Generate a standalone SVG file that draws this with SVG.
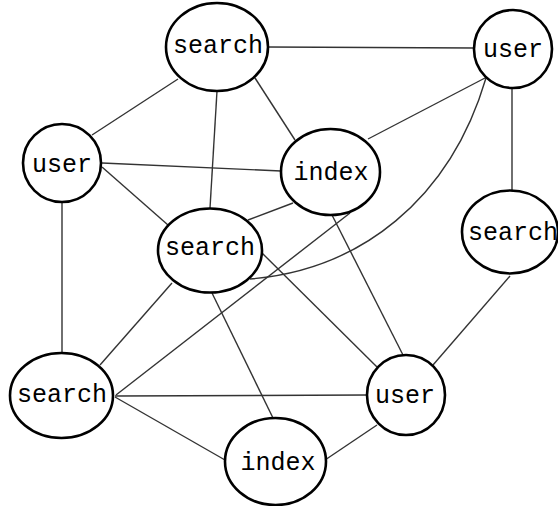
<svg xmlns="http://www.w3.org/2000/svg" width="558" height="506" viewBox="0 0 558 506">
<style>
.e{stroke:#333;stroke-width:1.4;fill:none}
.n ellipse{fill:#fff;stroke:#000;stroke-width:2.6}
.n text{font-family:"Liberation Mono","DejaVu Sans Mono",monospace;font-size:25px;fill:#000;text-anchor:middle}
</style>
<rect width="558" height="506" fill="#fff"/>
<g id="edges">
<line class="e" x1="268" y1="47" x2="474" y2="48"/>
<line class="e" x1="178" y1="79" x2="92" y2="135"/>
<line class="e" x1="217" y1="91" x2="210" y2="208"/>
<line class="e" x1="255" y1="78" x2="295" y2="140"/>
<line class="e" x1="485" y1="78" x2="368" y2="139"/>
<line class="e" x1="512" y1="88" x2="512" y2="190"/>
<path class="e" d="M486,78 C450,200 360,270 250,279"/>
<line class="e" x1="102" y1="163" x2="281" y2="171"/>
<line class="e" x1="102" y1="167" x2="168" y2="225"/>
<line class="e" x1="62" y1="202" x2="62" y2="353"/>
<line class="e" x1="293" y1="203" x2="248" y2="220"/>
<line class="e" x1="332" y1="215" x2="403" y2="355"/>
<line class="e" x1="116" y1="395" x2="350" y2="213"/>
<line class="e" x1="172" y1="283" x2="100" y2="365"/>
<line class="e" x1="262" y1="253" x2="377" y2="367"/>
<line class="e" x1="212" y1="293" x2="273" y2="418"/>
<line class="e" x1="510" y1="276" x2="433" y2="365"/>
<line class="e" x1="115" y1="396" x2="367" y2="395"/>
<line class="e" x1="115" y1="397" x2="225" y2="460"/>
<line class="e" x1="377" y1="425" x2="325" y2="460"/>
</g>
<g id="n1" class="n"><ellipse cx="217" cy="47" rx="51" ry="44"/><text x="218" y="53">search</text></g>
<g id="n2" class="n"><ellipse cx="513" cy="49" rx="39" ry="39"/><text x="513" y="57">user</text></g>
<g id="n3" class="n"><ellipse cx="62" cy="163" rx="39" ry="39"/><text x="62" y="172">user</text></g>
<g id="n4" class="n"><ellipse cx="330.5" cy="172" rx="49.5" ry="43"/><text x="331" y="180">index</text></g>
<g id="n5" class="n"><ellipse cx="210" cy="250.5" rx="52" ry="42"/><text x="210" y="255">search</text></g>
<g id="n6" class="n"><ellipse cx="510" cy="232" rx="48" ry="41.5"/><text x="513" y="240">search</text></g>
<g id="n7" class="n"><ellipse cx="61.5" cy="395.5" rx="51.5" ry="42.5"/><text x="62" y="402">search</text></g>
<g id="n8" class="n"><ellipse cx="406" cy="395" rx="39" ry="40"/><text x="405" y="403">user</text></g>
<g id="n9" class="n"><ellipse cx="275.5" cy="461.5" rx="50.5" ry="43.5"/><text x="278" y="470">index</text></g>
</svg>
